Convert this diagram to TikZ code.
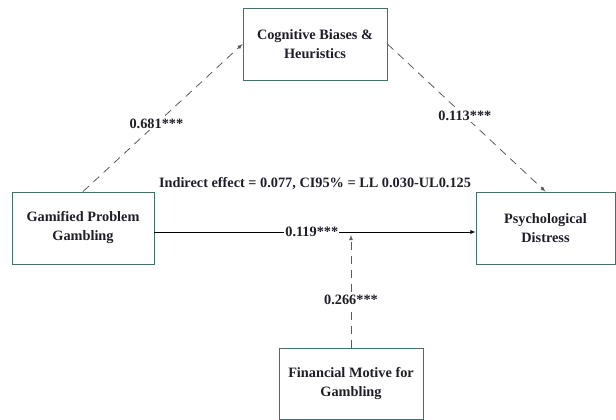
\documentclass[tikz,border=0pt]{standalone}
\usepackage{fontspec}
\setmainfont{Liberation Serif}
\usepackage[svgnames]{xcolor}
\usetikzlibrary{arrows.meta}
\definecolor{boxline}{RGB}{66,112,106}
\definecolor{dashline}{RGB}{90,90,90}
\definecolor{inktext}{RGB}{30,30,42}
\tikzset{>=latex,
  varbox/.style={draw=boxline, line width=0.9pt, fill=white, minimum width=144pt, minimum height=72pt,
    align=center, text=inktext, font=\bfseries\fontsize{14.3}{19}\selectfont},
  coef/.style={fill=white, text=inktext, inner sep=1pt, font=\bfseries\fontsize{14.3}{17}\selectfont},
  medpath/.style={->, dashline, line width=0.8pt, dash pattern=on 8pt off 6pt}}

\begin{document}
\begin{tikzpicture}[x=1pt, y=-1pt]
    \useasboundingbox (0,0) rectangle (616,420);
    \node[varbox] (cbh) at (315,44) {Cognitive Biases \&\\Heuristics};
    \node[varbox, minimum width=142pt] (gpg) at (83,228) {Gamified Problem\\Gambling};
    \node[varbox, minimum width=139pt] (pd) at (545.5,228) {Psychological\\Distress};
    \node[varbox, minimum height=71pt] (fmg) at (351,383.5) {Financial Motive for\\Gambling};
    \coordinate (mod) at (351,235);
    \draw [medpath] (gpg.north) -- (cbh.west) node[coef, pos=0.46]{0.681***};
    \draw [medpath] (cbh.east) -- (pd.north) node[coef, pos=0.49]{0.113***};
    \draw [->, black, line width=0.8pt] ([yshift=-4pt]gpg.east) -- ([yshift=-4pt]pd.west) node[coef, pos=0.49]{0.119***};
    \draw [medpath] (fmg.north) -- (mod) node[coef, pos=0.42]{0.266***};
    \node[text=inktext, font=\bfseries\fontsize{14.3}{17}\selectfont] (ind) at (315,184) {Indirect effect = 0.077, CI95\% = LL 0.030-UL0.125};
\end{tikzpicture}
\end{document}
